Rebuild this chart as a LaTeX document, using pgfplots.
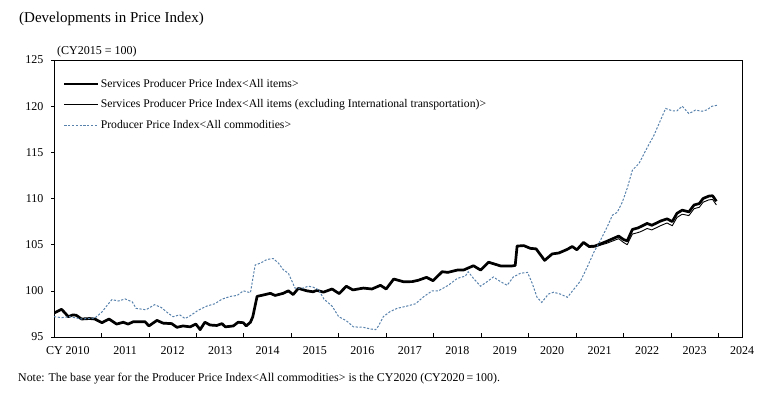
\documentclass[border=0pt]{standalone}
\usepackage{fontspec}
\setmainfont{Liberation Serif}
\usepackage{pgfplots}
\pgfplotsset{compat=1.18}
\definecolor{ppiblue}{RGB}{88,130,172}
\begin{document}
\begin{tikzpicture}[x=1pt,y=1pt]
\path[use as bounding box] (0,0) rectangle (775,397);
\node[anchor=west, font=\fontsize{15}{17}\selectfont, inner sep=0] at (19,378) {(Developments in Price Index)};
\node[anchor=west, font=\fontsize{11.9}{13}\selectfont, inner sep=0] at (18,18) {Note: The base year for the Producer Price Index<All commodities> is the CY2020 (CY2020\,=\,100).};
\node[anchor=west, font=\fontsize{12}{13}\selectfont, inner sep=0] at (57,345) {(CY2015 = 100)};
\begin{axis}[
  at={(54pt,60pt)}, anchor=south west,
  width=688pt, height=277pt, scale only axis,
  xmin=2010, xmax=2024.5, ymin=95, ymax=125,
  xtick={2010.5,2011.5,2012.5,2013.5,2014.5,2015.5,2016.5,2017.5,2018.5,2019.5,2020.5,2021.5,2022.5,2023.5,2024.5},
  xticklabels={\llap{CY }2010,2011,2012,2013,2014,2015,2016,2017,2018,2019,2020,2021,2022,2023,2024},
  major x tick style={draw=none},
  minor xtick={2010,2011,...,2024},
  minor tick length=4pt,
  xtick align=inside,
  ytick={95,100,...,125},
  ytick align=outside,
  major tick length=3pt,
  tick pos=left,
  tick style={black, line width=0.6pt},
  tick label style={font=\fontsize{12}{13}\selectfont},
  xticklabel style={yshift=-6pt},
  yticklabel style={xshift=-4pt},
  /pgf/number format/assume math mode=true,
  axis line style={line width=0.9pt},
  legend style={at={(0.013,0.935)}, anchor=north west, draw=none, fill=none,
    font=\fontsize{11.7}{13}\selectfont, row sep=9pt, inner sep=0pt,
    nodes={inner sep=1pt}},
  legend cell align=left,
  legend image code/.code={\draw[#1] (0pt,0pt) -- (34pt,0pt);},
]
\addplot[black, line width=2.7pt, line join=round] coordinates {
(2010.00,97.6)(2010.08,97.8)(2010.16,98.0)(2010.25,97.5)(2010.30,97.2)(2010.40,97.4)(2010.47,97.35)
(2010.58,96.95)(2010.75,97.0)(2010.86,96.95)(2011.01,96.55)(2011.16,96.95)(2011.32,96.4)(2011.46,96.6)
(2011.56,96.4)(2011.67,96.65)(2011.92,96.65)(2012.00,96.2)(2012.17,96.8)(2012.30,96.5)(2012.48,96.45)
(2012.59,96.05)(2012.72,96.2)(2012.87,96.1)(2012.99,96.4)(2013.08,95.8)(2013.18,96.6)(2013.29,96.3)
(2013.43,96.25)(2013.54,96.45)(2013.61,96.1)(2013.78,96.2)(2013.88,96.6)(2013.99,96.55)(2014.05,96.2)
(2014.14,96.6)(2014.19,97.2)(2014.28,99.4)(2014.41,99.55)(2014.56,99.73)(2014.66,99.5)(2014.83,99.73)
(2014.94,100.0)(2015.04,99.6)(2015.15,100.27)(2015.33,100.0)(2015.46,99.9)(2015.54,100.05)(2015.68,99.86)
(2015.86,100.2)(2016.01,99.7)(2016.16,100.5)(2016.30,100.1)(2016.52,100.3)(2016.70,100.2)(2016.88,100.6)
(2017.00,100.2)(2017.16,101.28)(2017.37,100.98)(2017.55,101.0)(2017.68,101.15)(2017.85,101.46)(2017.99,101.1)
(2018.18,102.07)(2018.30,102.0)(2018.50,102.25)(2018.63,102.25)(2018.84,102.72)(2018.99,102.25)(2019.16,103.1)
(2019.41,102.7)(2019.66,102.7)(2019.72,102.75)(2019.76,104.85)(2019.90,104.9)(2020.04,104.6)(2020.16,104.55)
(2020.34,103.3)(2020.50,104.0)(2020.64,104.1)(2020.82,104.5)(2020.92,104.8)(2021.02,104.45)(2021.16,105.25)
(2021.28,104.8)(2021.40,104.85)(2021.55,105.15)(2021.65,105.36)(2021.90,105.93)(2022.00,105.57)(2022.08,105.4)
(2022.19,106.65)(2022.30,106.8)(2022.36,106.94)(2022.50,107.3)(2022.60,107.1)(2022.78,107.55)(2022.92,107.8)
(2023.03,107.5)(2023.13,108.4)(2023.24,108.74)(2023.38,108.55)(2023.49,109.3)(2023.60,109.45)(2023.68,110.0)
(2023.80,110.26)(2023.88,110.3)(2023.96,109.7)
};
\addlegendentry{Services Producer Price Index<All items>}
\addplot[black, line width=0.9pt, line join=round] coordinates {
(2010.00,97.55)(2010.08,97.75)(2010.16,97.95)(2010.25,97.45)(2010.30,97.15)(2010.40,97.35)(2010.47,97.3)
(2010.58,96.9)(2010.75,96.95)(2010.86,96.9)(2011.01,96.5)(2011.16,96.9)(2011.32,96.35)(2011.46,96.55)
(2011.56,96.35)(2011.67,96.6)(2011.92,96.6)(2012.00,96.15)(2012.17,96.75)(2012.30,96.45)(2012.48,96.4)
(2012.59,96.0)(2012.72,96.15)(2012.87,96.05)(2012.99,96.35)(2013.08,95.75)(2013.18,96.55)(2013.29,96.25)
(2013.43,96.2)(2013.54,96.4)(2013.61,96.05)(2013.78,96.15)(2013.88,96.55)(2013.99,96.5)(2014.05,96.15)
(2014.14,96.55)(2014.19,97.15)(2014.28,99.35)(2014.41,99.5)(2014.56,99.68)(2014.66,99.45)(2014.83,99.68)
(2014.94,99.95)(2015.04,99.55)(2015.15,100.22)(2015.33,99.95)(2015.46,99.85)(2015.54,100.0)(2015.68,99.81)
(2015.86,100.15)(2016.01,99.65)(2016.16,100.45)(2016.30,100.05)(2016.52,100.25)(2016.70,100.15)(2016.88,100.55)
(2017.00,100.15)(2017.16,101.23)(2017.37,100.93)(2017.55,100.95)(2017.68,101.1)(2017.85,101.41)(2017.99,101.05)
(2018.18,102.02)(2018.30,101.95)(2018.50,102.2)(2018.63,102.2)(2018.84,102.67)(2018.99,102.2)(2019.16,103.05)
(2019.41,102.65)(2019.66,102.65)(2019.72,102.7)(2019.76,104.8)(2019.90,104.85)(2020.04,104.55)(2020.16,104.5)
(2020.34,103.25)(2020.50,103.95)(2020.64,104.05)(2020.82,104.45)(2020.92,104.75)(2021.02,104.4)(2021.16,105.15)
(2021.28,104.7)(2021.40,104.75)(2021.55,105.0)(2021.65,105.15)(2021.90,105.65)(2022.00,105.25)(2022.08,105.0)
(2022.19,106.15)(2022.30,106.3)(2022.36,106.4)(2022.50,106.75)(2022.60,106.6)(2022.78,107.05)(2022.92,107.35)
(2023.03,107.05)(2023.13,107.95)(2023.24,108.3)(2023.38,108.15)(2023.49,108.9)(2023.60,109.05)(2023.68,109.6)
(2023.80,109.85)(2023.88,109.9)(2023.96,109.3)
};
\addlegendentry{Services Producer Price Index<All items (excluding International transportation)>}
\addplot[ppiblue, line width=1pt, dash pattern=on 2.2pt off 1.6pt] coordinates {
(2010.00,97.2)(2010.16,97.1)(2010.33,97.2)(2010.58,96.95)(2010.86,97.05)(2011.01,97.7)(2011.10,98.3)
(2011.22,99.05)(2011.36,98.9)(2011.50,99.12)(2011.65,98.8)(2011.73,98.1)(2011.94,97.95)(2012.12,98.5)
(2012.26,98.2)(2012.40,97.6)(2012.51,97.2)(2012.65,97.4)(2012.76,97.0)(2012.87,97.3)(2013.04,97.9)
(2013.22,98.35)(2013.39,98.6)(2013.54,99.1)(2013.72,99.4)(2013.86,99.5)(2013.99,100.0)(2014.14,99.8)
(2014.24,102.8)(2014.35,103.0)(2014.49,103.4)(2014.62,103.5)(2014.73,103.0)(2014.83,102.3)(2014.94,101.9)
(2015.08,100.3)(2015.25,100.3)(2015.36,100.5)(2015.46,100.4)(2015.58,100.1)(2015.69,99.1)(2015.86,98.35)
(2016.00,97.2)(2016.16,96.77)(2016.31,96.1)(2016.52,96.05)(2016.67,95.87)(2016.78,95.8)(2016.84,96.2)
(2016.94,97.2)(2017.08,97.74)(2017.23,98.1)(2017.44,98.35)(2017.62,98.6)(2017.79,99.36)(2017.97,100.0)
(2018.10,100.0)(2018.31,100.6)(2018.50,101.35)(2018.67,101.6)(2018.73,102.07)(2018.84,101.35)(2018.99,100.5)
(2019.13,101.0)(2019.26,101.5)(2019.41,101.0)(2019.55,100.6)(2019.68,101.5)(2019.83,101.9)(2019.98,102.0)
(2020.08,100.8)(2020.18,99.3)(2020.28,98.75)(2020.42,99.65)(2020.53,99.85)(2020.67,99.65)(2020.82,99.3)
(2020.96,100.2)(2021.10,101.1)(2021.24,102.6)(2021.38,104.2)(2021.52,105.5)(2021.66,106.94)(2021.77,108.2)
(2021.87,108.5)(2021.98,109.65)(2022.08,111.1)(2022.19,113.07)(2022.33,113.8)(2022.50,115.5)(2022.64,116.8)
(2022.75,118.1)(2022.89,119.75)(2023.03,119.5)(2023.13,119.5)(2023.24,120.0)(2023.38,119.2)(2023.52,119.57)
(2023.66,119.45)(2023.76,119.6)(2023.87,120.0)(2023.98,120.1)
};
\addlegendentry{Producer Price Index<All commodities>}
\end{axis}
\end{tikzpicture}
\end{document}
